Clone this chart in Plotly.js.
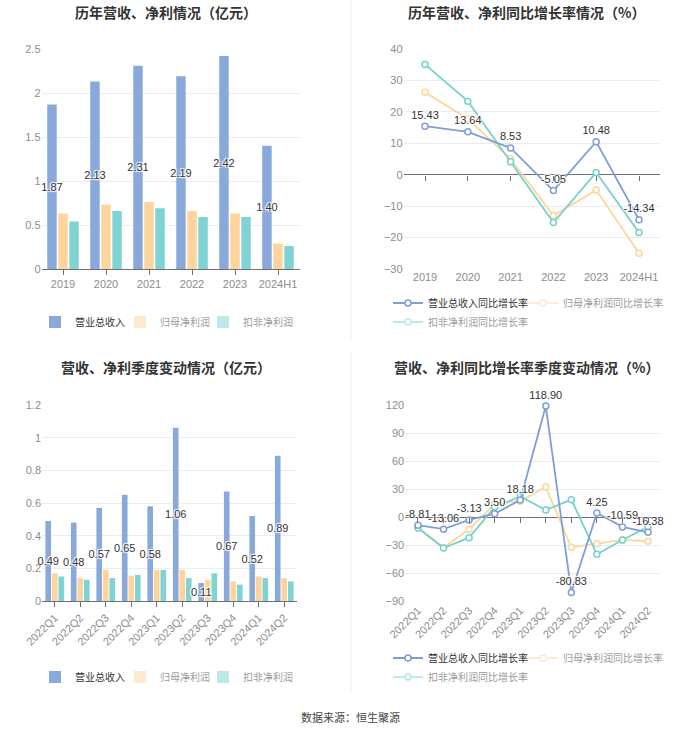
<!DOCTYPE html>
<html><head><meta charset="utf-8">
<script src="https://cdn.plot.ly/plotly-3.0.1.min.js"></script>
<style>html,body{margin:0;padding:0;background:#fff}#chart{width:700px;height:734px}</style>
</head><body><div id="chart"></div>
<script>
// ---- data ----
const years = ['2019','2020','2021','2022','2023','2024H1'];
const revenue = [1.87,2.13,2.31,2.19,2.42,1.40];
const netProfit = [0.63,0.73,0.76,0.66,0.63,0.29];
const deductedProfit = [0.54,0.66,0.69,0.59,0.59,0.26];
const revenueYoY = [15.43,13.64,8.53,-5.05,10.48,-14.34];
const netProfitYoY = [26.2,17.8,5.0,-13.0,-4.9,-25.0];
const deductedYoY = [35.1,23.4,4.1,-15.2,0.7,-18.4];

const quarters = ['2022Q1','2022Q2','2022Q3','2022Q4','2023Q1','2023Q2','2023Q3','2023Q4','2024Q1','2024Q2'];
const qRevenue = [0.49,0.48,0.57,0.65,0.58,1.06,0.11,0.67,0.52,0.89];
const qNetProfit = [0.17,0.14,0.19,0.155,0.19,0.19,0.13,0.12,0.15,0.14];
const qDeducted = [0.15,0.13,0.14,0.16,0.19,0.14,0.17,0.10,0.14,0.12];
const qRevenueYoY = [-8.81,-13.06,-3.13,3.50,18.18,118.90,-80.83,4.25,-10.59,-16.38];
const qNetProfitYoY = [-11,-33,-13.2,14,17,32.1,-32.5,-28.6,-24.6,-26];
const qDeductedYoY = [-11.8,-33.2,-22.1,10.7,22.1,7.5,18.6,-40,-24.6,-10.4];

const barNames = ['营业总收入','归母净利润','扣非净利润'];
const lineNames = ['营业总收入同比增长率','归母净利润同比增长率','扣非净利润同比增长率'];

// ---- styles ----
const cBlue = '#8aa9db', cYellow = '#fdd59c', cTeal = '#7fd3d3';
const lBlue = '#7f9ed8', lYellow = '#fcd69a', lTeal = '#74d2cc';
const FONT = 'Liberation Sans, Noto Sans CJK SC, sans-serif';
const labelFont = {size:11, color:'#333', family:FONT,
  shadow:'1px 1px 1px #fff, -1px -1px 1px #fff, 1px -1px 1px #fff, -1px 1px 1px #fff'};

function barTraces(cats, vals, xa, ya, legs) {
  const cols = [cBlue, cYellow, cTeal];
  const out = [];
  vals.forEach((v, i) => {
    out.push({type:'bar', x:cats, y:v, name:barNames[i], marker:{color:cols[i]}, offsetgroup:String(i),
      xaxis:xa, yaxis:ya, showlegend:i===0, legend:legs[0], hoverinfo:'skip'});
  });
  // label layer drawn on top, aligned with the first (revenue) bar
  out.push({type:'bar', x:cats, y:vals[0], name:'label', offsetgroup:'0', showlegend:false,
    marker:{color:'rgba(0,0,0,0)'}, xaxis:xa, yaxis:ya, hoverinfo:'skip',
    texttemplate:'%{y:.2f}', textposition:'inside', insidetextanchor:'middle',
    constraintext:'none', textangle:0, insidetextfont:labelFont, cliponaxis:false});
  for (let i = 1; i < 3; i++) {
    out.push({type:'bar', x:[cats[0]], y:[null], name:barNames[i], marker:{color:cols[i]},
      xaxis:xa, yaxis:ya, visible:'legendonly', legend:legs[i]});
  }
  return out;
}
function lineTraces(cats, vals, xa, ya, legs) {
  const cols = [lBlue, lYellow, lTeal];
  const out = [];
  [1,2,0].forEach(i => {
    const t = {type:'scatter', mode:'lines+markers', x:cats, y:vals[i], name:lineNames[i],
      line:{color:cols[i], width:1.8}, marker:{symbol:'circle', size:6, color:'#fff', line:{color:cols[i], width:1.5}},
      xaxis:xa, yaxis:ya, showlegend:i===0, legend:legs[0], hoverinfo:'skip', cliponaxis:false};
    if (i === 0) {
      t.mode = 'lines+markers+text';
      t.texttemplate = '%{y:.2f}';
      t.textposition = 'top center';
      t.textfont = labelFont;
    }
    out.push(t);
  });
  for (let i = 1; i < 3; i++) {
    out.push({type:'scatter', mode:'lines+markers', x:[cats[0]], y:[null], name:lineNames[i],
      line:{color:cols[i], width:1.8}, marker:{symbol:'circle', size:6, color:'#fff', line:{color:cols[i], width:1.5}},
      xaxis:xa, yaxis:ya, visible:'legendonly', legend:legs[i]});
  }
  return out;
}

const data = [].concat(
  barTraces(years, [revenue, netProfit, deductedProfit], 'x', 'y', ['legend','legend2','legend3']),
  lineTraces(years, [revenueYoY, netProfitYoY, deductedYoY], 'x2', 'y2', ['legend4','legend5','legend6']),
  barTraces(quarters, [qRevenue, qNetProfit, qDeducted], 'x3', 'y3', ['legend7','legend8','legend9']),
  lineTraces(quarters, [qRevenueYoY, qNetProfitYoY, qDeductedYoY], 'x4', 'y4', ['legend10','legend11','legend12']),
  // helper traces so the zero-line tick axes know the categories
  [{type:'scatter', mode:'markers', x:years, y:years.map(() => null), xaxis:'x5', yaxis:'y2', showlegend:false, hoverinfo:'skip'},
   {type:'scatter', mode:'markers', x:quarters, y:quarters.map(() => null), xaxis:'x6', yaxis:'y4', showlegend:false, hoverinfo:'skip'}]
);

const W = 700, H = 734;
const px = v => v / W, py = v => 1 - v / H;
const tickFont = {size:11, color:'#8c8c8c', family:FONT};
const gridC = '#e9ecf2', axC = '#6e7079';

function xCat(l, r, anchor, angle, line, n) {
  return {domain:[px(l), px(r)], anchor:anchor, type:'category', tickfont:tickFont, range:[-0.5, n - 0.5],
    showline:line, linecolor:axC, linewidth:1, ticks:line?'outside':'', ticklen:5, tickcolor:axC,
    showgrid:false, zeroline:false, tickangle:angle, fixedrange:true};
}
function yVal(t, b, anchor, range, dtick, zero) {
  return {domain:[py(b), py(t)], anchor:anchor, range:range, dtick:dtick, tickfont:tickFont,
    gridcolor:gridC, gridwidth:1, showline:false, zeroline:zero, zerolinecolor:axC, zerolinewidth:1,
    ticks:'', fixedrange:true};
}
function zeroTickAxis(over, yAx, n) {
  const d = yAx.domain, r = yAx.range;
  return {overlaying:over, anchor:'free', position:d[0] + (0 - r[0]) / (r[1] - r[0]) * (d[1] - d[0]),
    type:'category', range:[-0.5, n - 0.5], showticklabels:false, ticks:'outside', ticklen:5, tickcolor:axC,
    showline:false, showgrid:false, zeroline:false, fixedrange:true};
}

const legPos = {
  legend:[35,322], legend2:[120,322], legend3:[203,322],
  legend4:[388,303], legend5:[523,303], legend6:[388,322],
  legend7:[35,677], legend8:[120,677], legend9:[203,677],
  legend10:[388,658], legend11:[523,658], legend12:[388,677]
};

const layout = {
  width:W, height:H, margin:{l:0,r:0,t:0,b:0}, paper_bgcolor:'#fff', plot_bgcolor:'#fff',
  font:{family:FONT, color:'#333'}, bargap:0.23, bargroupgap:0.14, barmode:'group',
  xaxis: xCat(41.5, 299.5, 'y', 0, true, years.length),
  yaxis: yVal(49, 269, 'x', [0,2.5], 0.5, false),
  xaxis2: xCat(403.6, 660.4, 'y2', 0, false, years.length),
  yaxis2: yVal(49, 269, 'x2', [-30,40], 10, true),
  xaxis3: xCat(42, 297, 'y3', -45, true, quarters.length),
  yaxis3: yVal(405, 601, 'x3', [0,1.2], 0.2, false),
  xaxis4: xCat(405.2, 660.8, 'y4', -45, false, quarters.length),
  yaxis4: yVal(405, 601, 'x4', [-90,120], 30, true),
  annotations: [
    {text:'历年营收、净利情况（亿元）', x:px(166), y:py(12)},
    {text:'历年营收、净利同比增长率情况（%）', x:px(526), y:py(12)},
    {text:'营收、净利季度变动情况（亿元）', x:px(166), y:py(367)},
    {text:'营收、净利同比增长率季度变动情况（%）', x:px(526), y:py(367)}
  ].map(a => Object.assign(a, {xref:'paper', yref:'paper', showarrow:false, xanchor:'center', yanchor:'middle',
      font:{size:14, color:'#333', family:'Noto Sans CJK SC, sans-serif', weight:'bold'}}))
   .concat([{text:'数据来源：恒生聚源', x:0.5, y:py(717), xref:'paper', yref:'paper', showarrow:false,
      xanchor:'center', yanchor:'middle', font:{size:11, color:'#444', family:'Noto Sans CJK SC, sans-serif'}}]),
  shapes: [
    {type:'line', xref:'paper', yref:'paper', x0:px(351), x1:px(351), y0:py(0), y1:py(340), line:{color:'#f0f0f0', width:1}},
    {type:'line', xref:'paper', yref:'paper', x0:px(351), x1:px(351), y0:py(352), y1:py(692), line:{color:'#f0f0f0', width:1}}
  ]
};
layout.xaxis5 = zeroTickAxis('x2', layout.yaxis2, years.length);
layout.xaxis6 = zeroTickAxis('x4', layout.yaxis4, quarters.length);
Object.keys(legPos).forEach(k => {
  layout[k] = {x:px(legPos[k][0]), y:py(legPos[k][1]), xanchor:'left', yanchor:'middle', orientation:'h',
    bgcolor:'rgba(0,0,0,0)', font:{size:10, color:'#333', family:'Noto Sans CJK SC, sans-serif'},
    itemclick:false, itemdoubleclick:false};
});

Plotly.newPlot('chart', data, layout, {displayModeBar:false, staticPlot:true});
</script></body></html>
